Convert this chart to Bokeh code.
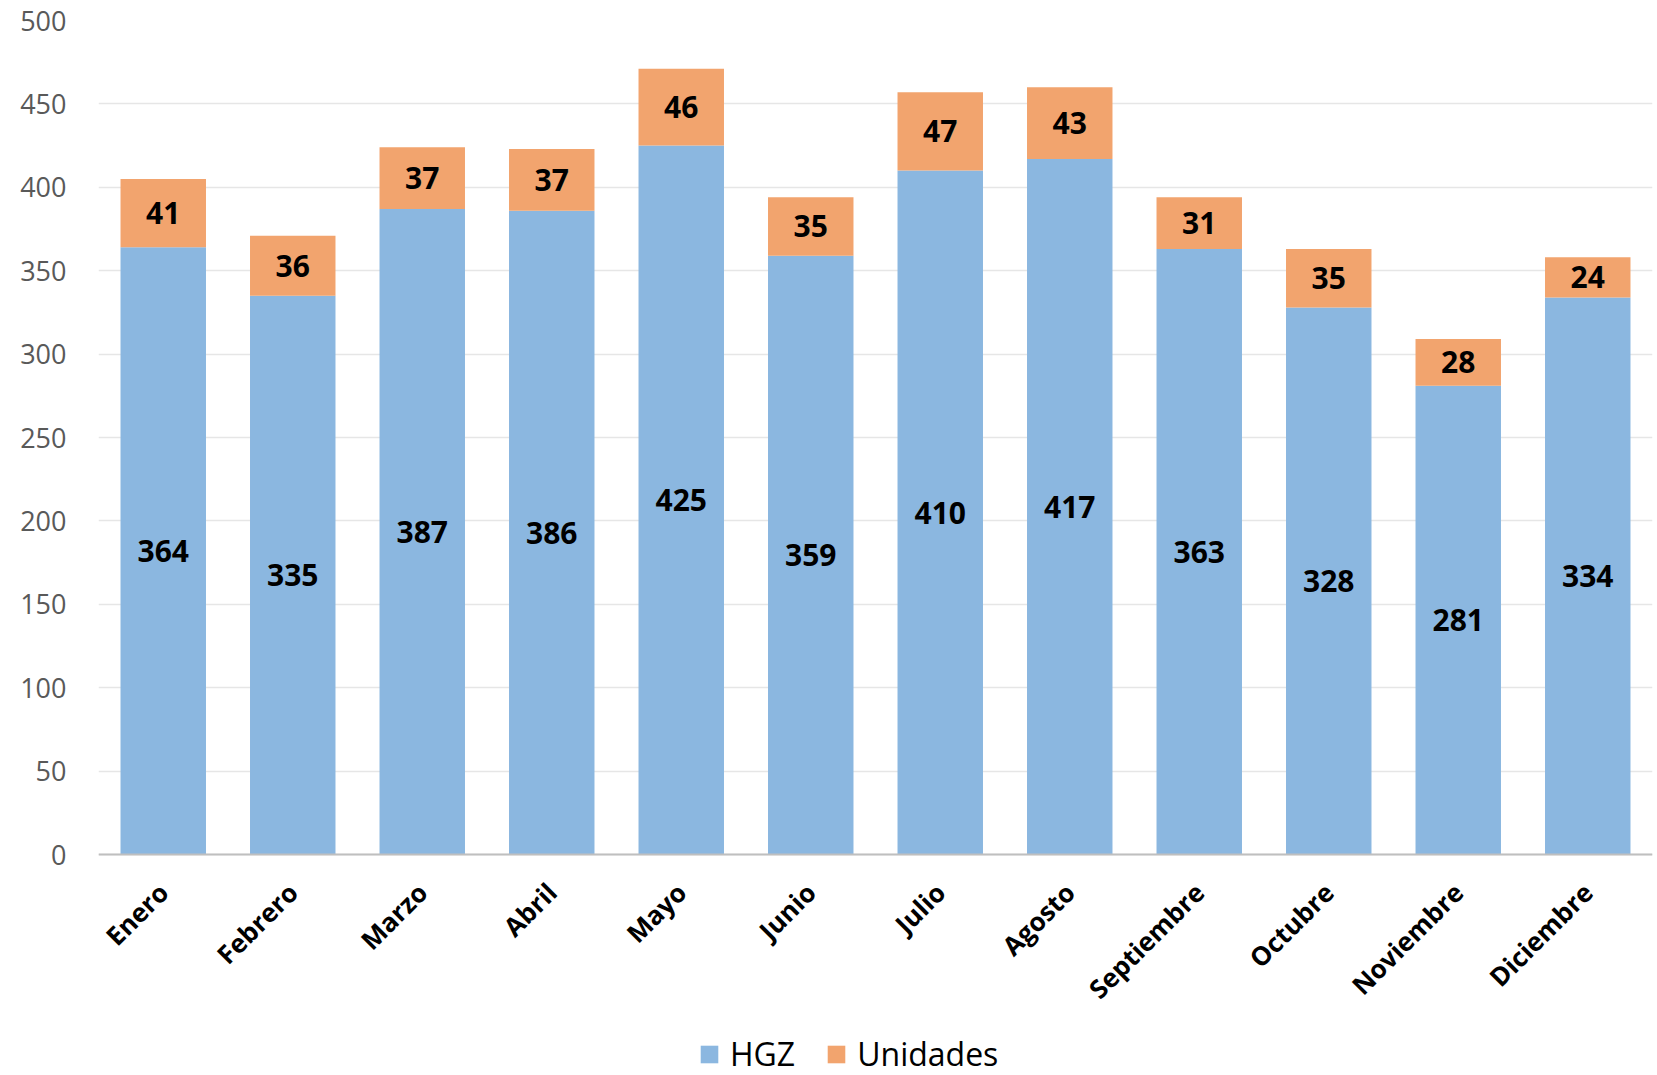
import math
from bokeh.plotting import figure
from bokeh.models import (ColumnDataSource, FactorRange, Legend, LegendItem,
                          FixedTicker, Range1d)
from bokeh.core.properties import value
from bokeh.embed import file_html
from bokeh.resources import INLINE

months = ["Enero", "Febrero", "Marzo", "Abril", "Mayo", "Junio", "Julio",
          "Agosto", "Septiembre", "Octubre", "Noviembre", "Diciembre"]
hgz = [364, 335, 387, 386, 425, 359, 410, 417, 363, 328, 281, 334]
unidades = [41, 36, 37, 37, 46, 35, 47, 43, 31, 35, 28, 24]
series_names = ["HGZ", "Unidades"]
y_ticks = [0, 50, 100, 150, 200, 250, 300, 350, 400, 450, 500]

BLUE = "#8BB7E0"
ORANGE = "#F2A46E"
FONT = "Open Sans"

src = ColumnDataSource(dict(
    month=months,
    hgz=hgz,
    uni=unidades,
    top=[h + u for h, u in zip(hgz, unidades)],
    hgz_mid=[h / 2 for h in hgz],
    uni_mid=[h + u / 2 for h, u in zip(hgz, unidades)],
    hgz_txt=[str(h) for h in hgz],
    uni_txt=[str(u) for u in unidades],
))

# The frame extends below zero so that the legend (drawn inside the frame)
# can sit under the month labels, as in the reference.
FRAME_H = 1065
ZERO_PX = 834          # distance in px from frame top to the value 0
Y_MAX = max(y_ticks)
y_start = -Y_MAX * (FRAME_H - ZERO_PX) / ZERO_PX

p = figure(
    x_range=FactorRange(*months, range_padding=0),
    y_range=Range1d(y_start, Y_MAX),
    frame_width=1554, frame_height=FRAME_H,
    output_backend="svg", toolbar_location=None,
    min_border_left=98, min_border_right=5, min_border_top=20, min_border_bottom=0,
)
p.outline_line_color = None

r1 = p.vbar(x="month", top="hgz", bottom=0, width=0.66, source=src,
            fill_color=BLUE, line_color=None)
r2 = p.vbar(x="month", top="top", bottom="hgz", width=0.66, source=src,
            fill_color=ORANGE, line_color=None)

p.text(x="month", y="hgz_mid", text="hgz_txt", source=src,
       text_font=value(FONT), text_font_style="bold", text_font_size="30px",
       text_align="center", text_baseline="middle", text_color="black")
p.text(x="month", y="uni_mid", text="uni_txt", source=src,
       text_font=value(FONT), text_font_style="bold", text_font_size="30px",
       text_align="center", text_baseline="middle", text_color="black")

# axes
p.yaxis.ticker = FixedTicker(ticks=y_ticks)
p.yaxis.axis_line_color = None
p.yaxis.major_tick_line_color = None
p.yaxis.minor_tick_line_color = None
p.yaxis.major_label_text_font = FONT
p.yaxis.major_label_text_font_size = "27px"
p.yaxis.major_label_text_color = "#595959"
p.yaxis.major_label_standoff = 26

p.xaxis.fixed_location = 0
p.xaxis.axis_line_color = "#BFBFBF"
p.xaxis.axis_line_width = 2
p.xaxis.major_tick_line_color = None
p.xaxis.minor_tick_line_color = None
p.xaxis.major_label_orientation = math.pi / 4
p.xaxis.major_label_text_font = FONT
p.xaxis.major_label_text_font_style = "bold"
p.xaxis.major_label_text_font_size = "26px"
p.xaxis.major_label_text_color = "black"
p.xaxis.major_label_standoff = 27

p.xgrid.grid_line_color = None
p.ygrid.grid_line_color = "#E6E6E6"
p.ygrid.grid_line_width = 1.5

legend = Legend(
    items=[LegendItem(label=series_names[0], renderers=[r1]),
           LegendItem(label=series_names[1], renderers=[r2])],
    orientation="horizontal",
    location=(600, 10),
    glyph_width=22, glyph_height=22, label_standoff=10, spacing=30,
    padding=0, margin=0,
    label_text_font=FONT, label_text_font_size="32px", label_text_color="black",
    border_line_color=None, background_fill_alpha=0,
)
p.add_layout(legend, "center")

open("out.html", "w").write(file_html(p, INLINE))
